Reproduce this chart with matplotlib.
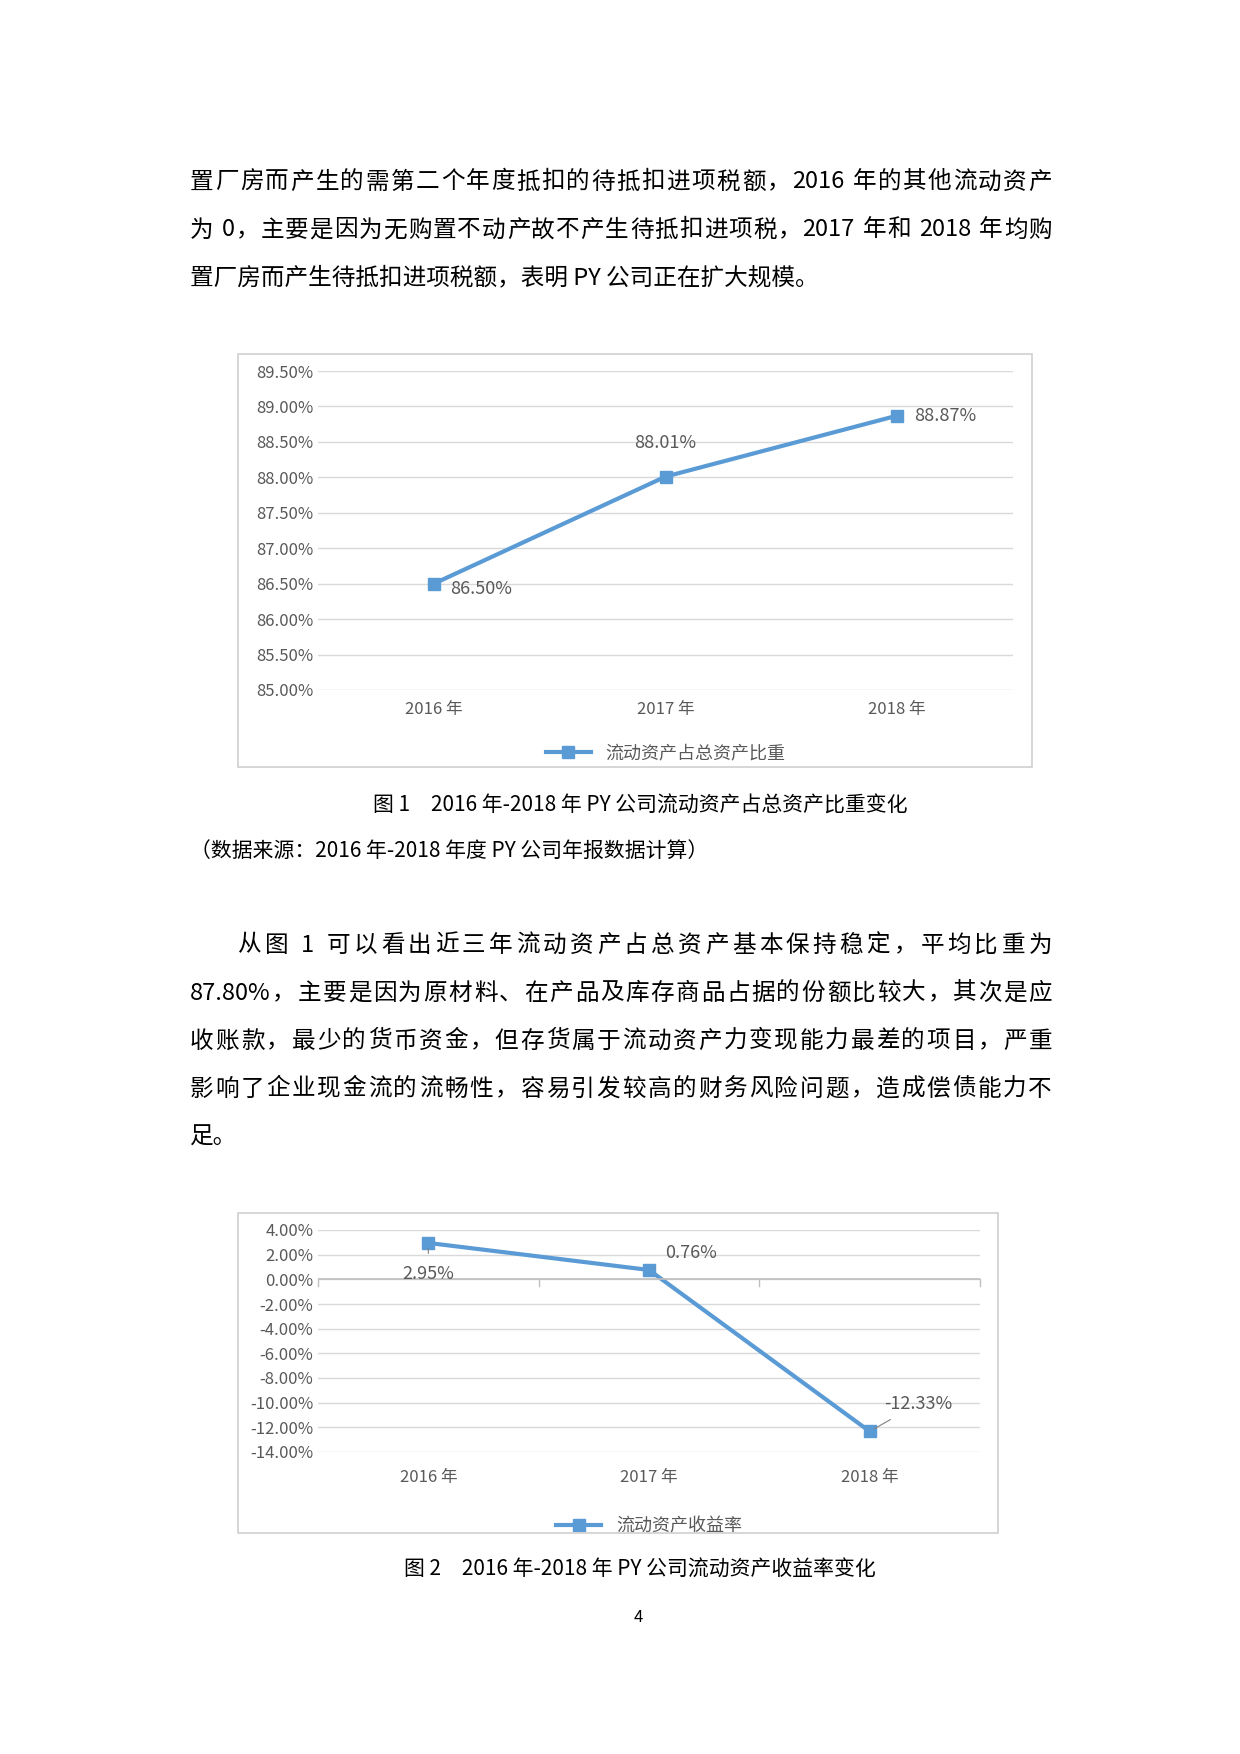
import re
import matplotlib
matplotlib.use("Agg")
import matplotlib.pyplot as plt
from matplotlib.patches import Rectangle

plt.rcParams['font.family'] = ['Noto Sans CJK SC', 'DejaVu Sans']

W, H = 1240, 1754
BLUE = "#5B9BD5"
GRID = "#D9D9D9"
TXT = "#595959"

years = ["2016 年", "2017 年", "2018 年"]
share = [86.50, 88.01, 88.87]
share_ticks = [85.0, 85.5, 86.0, 86.5, 87.0, 87.5, 88.0, 88.5, 89.0, 89.5]
ret = [2.95, 0.76, -12.33]
ret_ticks = [-14, -12, -10, -8, -6, -4, -2, 0, 2, 4]

para1 = [
    "置厂房而产生的需第二个年度抵扣的待抵扣进项税额，2016 年的其他流动资产",
    "为 0，主要是因为无购置不动产故不产生待抵扣进项税，2017 年和 2018 年均购",
    "置厂房而产生待抵扣进项税额，表明 PY 公司正在扩大规模。",
]
para2 = [
    "从图 1 可以看出近三年流动资产占总资产基本保持稳定，平均比重为",
    "87.80%，主要是因为原材料、在产品及库存商品占据的份额比较大，其次是应",
    "收账款，最少的货币资金，但存货属于流动资产力变现能力最差的项目，严重",
    "影响了企业现金流的流畅性，容易引发较高的财务风险问题，造成偿债能力不",
    "足。",
]

fig = plt.figure(figsize=(W / 100, H / 100), dpi=100)
renderer = fig.canvas.get_renderer()


def fx(x):
    return x / W


def fy(y):
    return 1 - y / H


def text(x, y, s, size=17, **kw):
    return fig.text(fx(x), fy(y), s, fontsize=size, va="center", **kw)


def justified(x0, x1, y, s, size=17):
    # ASCII runs stay together, CJK chars are spread to fill the line
    tokens = re.findall(r"[A-Za-z0-9.%]+| |.", s)
    widths = []
    for t in tokens:
        tt = text(0, y, t.replace(" ", "\u00a0") if t == " " else t, size=size)
        widths.append(tt.get_window_extent(renderer).width if t != " " else 6)
        tt.remove()
    gap = (x1 - x0 - sum(widths)) / max(len(tokens) - 1, 1)
    x = x0
    for t, w in zip(tokens, widths):
        if t != " ":
            text(x, y, t, size=size)
        x += w + gap


def paragraph(lines, y0, indent):
    for i, s in enumerate(lines):
        x0 = 238 if (i == 0 and indent) else 190
        if i < len(lines) - 1:
            justified(x0, 1052, y0 + 48 * i, s)
        else:
            text(x0, y0 + 48 * i, s)


paragraph(para1, 182, False)
paragraph(para2, 945, True)

text(640, 806, "图 1　2016 年-2018 年 PY 公司流动资产占总资产比重变化", size=15, ha="center")
text(190, 851, "（数据来源：2016 年-2018 年度 PY 公司年报数据计算）", size=15)
text(640, 1570, "图 2　2016 年-2018 年 PY 公司流动资产收益率变化", size=15, ha="center")
text(638, 1618, "4", size=12, ha="center")


def box(x0, y0, x1, y1):
    fig.add_artist(Rectangle((fx(x0), fy(y1)), fx(x1 - x0), (y1 - y0) / H,
                             transform=fig.transFigure, fill=False,
                             edgecolor="#D0D0D0", lw=1.2))


def style(ax):
    for sp in ax.spines.values():
        sp.set_visible(False)
    ax.tick_params(length=0, labelcolor=TXT, labelsize=12)
    ax.set_xticks(range(3))
    ax.set_xticklabels(years)
    ax.grid(axis="y", color=GRID, lw=1)
    ax.set_axisbelow(True)
    ax.set_xlim(-0.5, 2.5)


# chart 1
box(238, 354, 1032, 767)
ax1 = fig.add_axes([fx(318), fy(690), fx(1013 - 318), (690 - 371) / H])
ax1.plot(range(3), share, color=BLUE, lw=3, marker="s", ms=8, label="流动资产占总资产比重")
ax1.set_ylim(85.0, 89.5)
ax1.set_yticks(share_ticks)
ax1.set_yticklabels([f"{v:.2f}%" for v in share_ticks])
style(ax1)
ax1.tick_params(axis="x", pad=8)
offs = [(12, -4), (0, 24), (12, 0)]
has = ["left", "center", "left"]
for i, v in enumerate(share):
    ax1.annotate(f"{v:.2f}%", (i, v), xytext=offs[i], textcoords="offset points",
                 ha=has[i], va="center", fontsize=13, color=TXT)
ax1.legend(loc="upper center", bbox_to_anchor=(0.5, -0.12), frameon=False,
           fontsize=13, labelcolor=TXT, handlelength=2.5)

# chart 2
box(238, 1213, 998, 1533)
ax2 = fig.add_axes([fx(318), fy(1452), fx(980 - 318), (1452 - 1230) / H])
ax2.plot(range(3), ret, color=BLUE, lw=3, marker="s", ms=8, label="流动资产收益率")
ax2.set_ylim(-14, 4)
ax2.set_yticks(ret_ticks)
ax2.set_yticklabels([f"{v:.2f}%" for v in ret_ticks])
style(ax2)
ax2.tick_params(axis="x", pad=12)
ax2.axhline(0, color="#BFBFBF", lw=1.2)
for b in [-0.5, 0.5, 1.5, 2.5]:
    ax2.plot([b, b], [0, -0.5], color="#BFBFBF", lw=1, clip_on=False)
offs2 = [(0, -22), (30, 12), (35, 20)]
for i, v in enumerate(ret):
    ax2.annotate(f"{v:.2f}%", (i, v), xytext=offs2[i], textcoords="offset points",
                 ha="center", va="center", fontsize=13, color=TXT,
                 arrowprops=dict(arrowstyle="-", color="#7F7F7F", lw=0.8, shrinkA=6, shrinkB=4))
ax2.legend(loc="upper center", bbox_to_anchor=(0.5, -0.22), frameon=False,
           fontsize=13, labelcolor=TXT, handlelength=2.5)

fig.savefig("out.png", dpi=100)
